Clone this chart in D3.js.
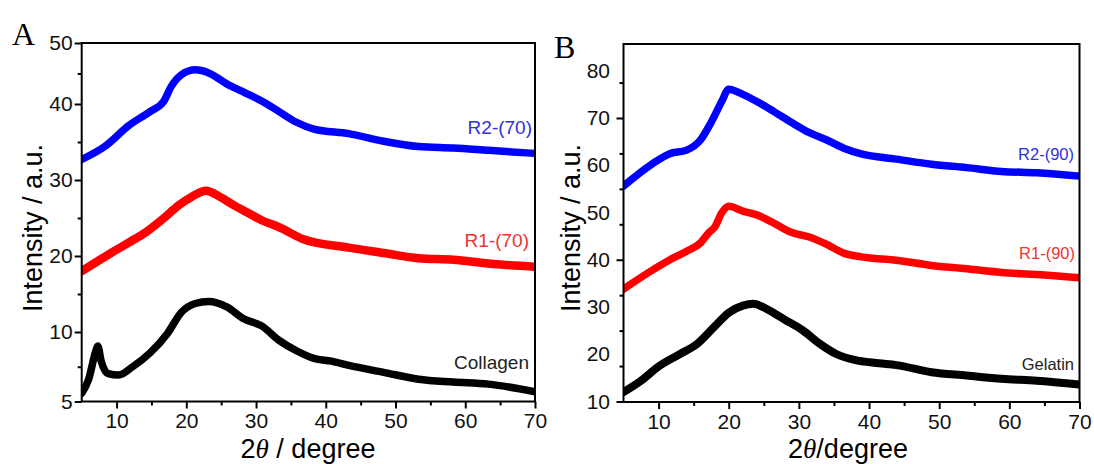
<!DOCTYPE html>
<html>
<head>
<meta charset="utf-8">
<script src="https://cdn.jsdelivr.net/npm/d3@7"></script>
<style>
  body { margin: 0; background: white; }
  svg { display: block; font-family: 'Liberation Sans', Arial, sans-serif; }
</style>
</head>
<body>
<svg width="1094" height="464"></svg>
<script>
// === Data

// Panel A
const A_R2_X = [5, 8.3, 11.8, 14.8, 16.8, 17.8, 19.3, 21.3, 23.2, 25.8, 28.3, 30.8, 33.3, 35.8, 38.3, 43.3, 48.3, 53.3, 58.3, 63.3, 70];
const A_R2_Y = [32.7, 34.4, 37.2, 39.0, 40.5, 42.8, 44.8, 45.6, 45.1, 43.3, 41.9, 40.5, 39.0, 37.6, 36.7, 36.1, 35.1, 34.4, 34.2, 33.9, 33.5];
const A_R1_X = [5, 8.3, 11.8, 14.3, 16.8, 18.8, 20.8, 22.8, 24.8, 26.8, 28.8, 30.8, 33.3, 36.8, 43.3, 48.3, 53.3, 58.3, 63.3, 70];
const A_R1_Y = [18.0, 19.9, 21.8, 23.2, 25.0, 26.6, 27.8, 28.6, 27.8, 26.7, 25.7, 24.7, 23.8, 22.2, 21.1, 20.4, 19.7, 19.5, 19.0, 18.6];
const A_COL_X = [5, 6.0, 7.0, 7.3, 7.8, 8.8, 10.3, 12.3, 14.8, 17.3, 19.3, 21.3, 23.2, 25.8, 28.3, 30.8, 33.3, 35.8, 38.3, 40.8, 43.3, 48.3, 53.3, 58.3, 63.3, 70];
const A_COL_Y = [5.6, 6.6, 8.6, 9.0, 7.9, 7.0, 6.9, 7.5, 8.5, 9.9, 12.6, 13.75, 14.0, 13.3, 11.7, 10.8, 9.4, 8.65, 8.1, 7.9, 7.6, 7.1, 6.6, 6.4, 6.25, 5.7];

// Panel B
const B_R2_X = [5, 9.0, 11.5, 14.0, 16.0, 17.5, 19.0, 20.0, 22.0, 24.0, 26.5, 28.9, 31.5, 33.9, 36.4, 38.9, 43.9, 48.9, 53.9, 58.9, 63.9, 70];
const B_R2_Y = [55.6, 60.2, 62.4, 63.2, 65.4, 69.1, 73.5, 76.1, 75.0, 73.5, 71.3, 69.1, 66.9, 65.4, 63.6, 62.4, 61.3, 60.2, 59.5, 58.7, 58.4, 57.7];
const B_R1_X = [5, 9.0, 11.5, 14.0, 16.0, 17.2, 18.0, 19.0, 20.0, 22.0, 24.0, 26.5, 28.9, 31.5, 33.9, 36.4, 38.9, 43.9, 48.9, 53.9, 58.9, 63.9, 70];
const B_R1_Y = [33.8, 37.7, 39.9, 41.8, 43.6, 45.8, 46.9, 49.9, 51.3, 50.3, 49.5, 47.7, 45.8, 44.8, 43.3, 41.4, 40.6, 39.9, 38.8, 38.1, 37.3, 36.9, 36.2];
const B_GEL_X = [5, 7.5, 10.0, 13.0, 15.5, 18.0, 20.0, 22.0, 23.5, 25.5, 28.0, 30.5, 33.0, 35.4, 37.9, 41.4, 43.9, 48.9, 53.9, 58.9, 63.9, 70];
const B_GEL_Y = [12.0, 14.4, 17.4, 20.0, 22.2, 25.9, 28.8, 30.3, 30.7, 29.5, 27.3, 25.1, 22.2, 20.0, 18.8, 18.1, 17.7, 16.2, 15.5, 14.8, 14.4, 13.6];

// Ticks
const X_MAJOR = [10, 20, 30, 40, 50, 60, 70];
const X_MINOR = [15, 25, 35, 45, 55, 65];
const A_Y_LABELS = [5, 10, 20, 30, 40, 50];
const A_Y_MINOR = [7.5, 15, 25, 35, 45];
const B_Y_LABELS = [10, 20, 30, 40, 50, 60, 70, 80];
const B_Y_MAJOR = [10, 40, 70];
const B_Y_MINOR = [17.5, 25, 32.5, 47.5, 55, 62.5, 77.5];

// === Config

const BLUE = '#0000ff';
const RED = '#ff0000';
const BLACK = '#000000';

const zip = (xs, ys) => xs.map((x, i) => ({ x: x, y: ys[i] }));

const PANELS = [
  {
    letter: 'A', letterPos: [12, 45],
    left: 81.7, right: 535, top: 43, bottom: 401.5,
    yDomain: [5, 10, 40, 50], yRange: [401.5, 332, 104, 43],
    yLabels: A_Y_LABELS, yMajor: A_Y_LABELS, yMinor: A_Y_MINOR, yPad: 9,
    yTitleX: 42, xTitle: ['2', 'θ', ' / degree'], xTitleX: 308,
    labelSize: 19,
    series: [
      { data: zip(A_R2_X, A_R2_Y), color: BLUE, width: 7.5, label: 'R2-(70)', lx: 532, ly: 134, lc: '#3030dd' },
      { data: zip(A_R1_X, A_R1_Y), color: RED, width: 8.5, label: 'R1-(70)', lx: 529, ly: 247, lc: '#ee3333' },
      { data: zip(A_COL_X, A_COL_Y), color: BLACK, width: 7.5, label: 'Collagen', lx: 529, ly: 369, lc: '#222' }
    ]
  },
  {
    letter: 'B', letterPos: [554, 58],
    left: 623.5, right: 1079.5, top: 44, bottom: 402,
    yDomain: [10, 85.66], yRange: [401.5, 44],
    yLabels: B_Y_LABELS, yMajor: B_Y_MAJOR, yMinor: B_Y_MINOR, yPad: 13.5,
    yTitleX: 580, xTitle: ['2', 'θ', '/degree'], xTitleX: 848,
    labelSize: 16.5,
    series: [
      { data: zip(B_R2_X, B_R2_Y), color: BLUE, width: 7.5, label: 'R2-(90)', lx: 1074, ly: 160, lc: '#3030dd' },
      { data: zip(B_R1_X, B_R1_Y), color: RED, width: 7.5, label: 'R1-(90)', lx: 1075, ly: 259, lc: '#ee3333' },
      { data: zip(B_GEL_X, B_GEL_Y), color: BLACK, width: 8, label: 'Gelatin', lx: 1074, ly: 370, lc: '#222' }
    ]
  }
];

// === Main

function main() {
  const svg = d3.select('svg');
  svg.append('rect').attr('width', 1094).attr('height', 464).attr('fill', 'white');

  PANELS.forEach(function(p, i) {
    const x = d3.scaleLinear().domain([5, 70]).range([p.left, p.right]);
    const y = d3.scaleLinear().domain(p.yDomain).range(p.yRange);
    const g = svg.append('g').attr('class', 'panel');

    // clip the traces to the frame
    const clipId = 'clip' + i;
    svg.append('clipPath').attr('id', clipId).append('rect')
      .attr('x', p.left).attr('y', p.top)
      .attr('width', p.right - p.left).attr('height', p.bottom - p.top);

    const line = d3.line()
      .x(d => x(d.x))
      .y(d => y(d.y))
      .curve(d3.curveMonotoneX);

    g.append('g').attr('clip-path', `url(#${clipId})`)
      .selectAll('path')
      .data(p.series)
      .enter()
      .append('path')
      .attr('d', d => line(d.data))
      .attr('fill', 'none')
      .attr('stroke', d => d.color)
      .attr('stroke-width', d => d.width)
      .attr('stroke-linejoin', 'round')
      .attr('stroke-linecap', 'round');

    // series labels
    g.selectAll('text.series')
      .data(p.series)
      .enter()
      .append('text')
      .attr('class', 'series')
      .attr('x', d => d.lx)
      .attr('y', d => d.ly)
      .attr('text-anchor', 'end')
      .attr('font-size', p.labelSize)
      .attr('fill', d => d.lc)
      .text(d => d.label);

    // x axis: major with labels, minor without
    g.append('g')
      .attr('transform', `translate(0,${p.bottom})`)
      .call(d3.axisBottom(x).tickValues(X_MAJOR).tickSize(7).tickPadding(5).tickFormat(d3.format('d')))
      .call(styleAxis);
    g.append('g')
      .attr('transform', `translate(0,${p.bottom})`)
      .call(d3.axisBottom(x).tickValues(X_MINOR).tickSize(4).tickFormat(''))
      .call(styleAxis);

    // y axis: labels, major ticks, minor ticks
    g.append('g')
      .attr('transform', `translate(${p.left},0)`)
      .call(d3.axisLeft(y).tickValues(p.yLabels).tickSize(0).tickPadding(p.yPad).tickFormat(d3.format('d')))
      .call(styleAxis);
    g.append('g')
      .attr('transform', `translate(${p.left},0)`)
      .call(d3.axisLeft(y).tickValues(p.yMajor).tickSize(7).tickFormat(''))
      .call(styleAxis);
    g.append('g')
      .attr('transform', `translate(${p.left},0)`)
      .call(d3.axisLeft(y).tickValues(p.yMinor).tickSize(4).tickFormat(''))
      .call(styleAxis);

    // frame
    g.append('rect')
      .attr('x', p.left).attr('y', p.top)
      .attr('width', p.right - p.left).attr('height', p.bottom - p.top)
      .attr('fill', 'none')
      .attr('stroke', 'black')
      .attr('stroke-width', 2);

    // axis titles
    const xt = g.append('text')
      .attr('x', p.xTitleX).attr('y', 458)
      .attr('text-anchor', 'middle')
      .attr('font-size', 27);
    xt.append('tspan').text(p.xTitle[0]);
    xt.append('tspan').attr('font-family', "'Liberation Serif', serif").attr('font-style', 'italic').text(p.xTitle[1]);
    xt.append('tspan').text(p.xTitle[2]);

    g.append('text')
      .attr('transform', `translate(${p.yTitleX},228) rotate(-90)`)
      .attr('text-anchor', 'middle')
      .attr('font-size', 27)
      .text('Intensity / a.u.');

    // panel letter
    g.append('text')
      .attr('x', p.letterPos[0]).attr('y', p.letterPos[1])
      .attr('font-family', "'Liberation Serif', 'Times New Roman', serif")
      .attr('font-size', 32)
      .text(p.letter);
  });
}

function styleAxis(sel) {
  sel.select('.domain').remove();
  sel.selectAll('line').attr('stroke', 'black').attr('stroke-width', 2);
  sel.selectAll('text')
    .attr('font-family', "'Liberation Sans', Arial, sans-serif")
    .attr('font-size', 21)
    .attr('fill', '#111');
}

// === Init

main();
</script>
</body>
</html>
